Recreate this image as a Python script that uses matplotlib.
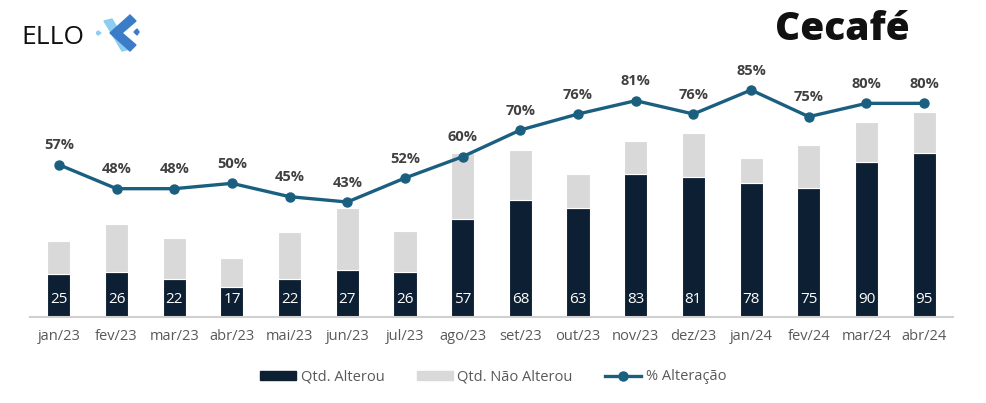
import matplotlib
matplotlib.use('Agg')
import matplotlib.pyplot as plt
from matplotlib.patches import Polygon, Patch
from matplotlib.lines import Line2D

plt.rcParams['font.family'] = ['Open Sans', 'DejaVu Sans']

meses = ['jan/23', 'fev/23', 'mar/23', 'abr/23', 'mai/23', 'jun/23', 'jul/23', 'ago/23',
         'set/23', 'out/23', 'nov/23', 'dez/23', 'jan/24', 'fev/24', 'mar/24', 'abr/24']
qtd_alterou = [25, 26, 22, 17, 22, 27, 26, 57, 68, 63, 83, 81, 78, 75, 90, 95]
qtd_nao_alterou = [19, 28, 24, 17, 27, 36, 24, 38, 29, 20, 19, 26, 14, 25, 23, 24]
pct_alteracao = [57, 48, 48, 50, 45, 43, 52, 60, 70, 76, 81, 76, 85, 75, 80, 80]

navy = '#0d1f33'
cinza = '#d9d9d9'
azul = '#1b5f80'

fig = plt.figure(figsize=(9.86, 4.03), dpi=100)
ax = fig.add_axes([30/986, 1 - 316.7/403, 923/986, 276.7/403])
x = list(range(len(meses)))

ax.bar(x, qtd_alterou, width=0.4, color=navy, edgecolor='white', linewidth=0.8, zorder=2)
ax.bar(x, qtd_nao_alterou, width=0.4, bottom=qtd_alterou, color=cinza,
       edgecolor='white', linewidth=0.8, zorder=2)
ax.set_xlim(-0.5, 15.5)
ax.set_ylim(0, 276.7/1.72)

for i, v in enumerate(qtd_alterou):
    ax.annotate(str(v), (i, 0), xytext=(0, 12.5), textcoords='offset points',
                ha='center', va='center', color='white', fontsize=11, zorder=4)

for s in ['top', 'right', 'left']:
    ax.spines[s].set_visible(False)
ax.spines['bottom'].set_color('#d0d0d0')
ax.spines['bottom'].set_linewidth(1.5)
ax.set_yticks([])
ax.set_xticks(x)
ax.set_xticklabels(meses, color='#595959', fontsize=10.5)
ax.tick_params(axis='x', length=0, pad=9)

ax2 = ax.twinx()
ax2.set_ylim(0, 276.7/2.667)
ax2.plot(x, pct_alteracao, color=azul, linewidth=2.4, marker='o', markersize=6.5, zorder=5)
for i, p in enumerate(pct_alteracao):
    ax2.annotate(f'{p}%', (i, p), xytext=(0, 9), textcoords='offset points',
                 ha='center', va='bottom', color='#404040', fontsize=10.5, fontweight='bold')
ax2.axis('off')

handles = [Patch(color=navy), Patch(color=cinza),
           Line2D([0], [0], color=azul, linewidth=2.4, marker='o', markersize=6.5)]
fig.legend(handles, ['Qtd. Alterou', 'Qtd. Não Alterou', '% Alteração'],
           loc='center', bbox_to_anchor=(0.5, 1 - 377/403), ncol=3, frameon=False,
           fontsize=10.5, labelcolor='#595959', handlelength=2.5, handleheight=0.55,
           columnspacing=2.2, handletextpad=0.3)

# logos aproximados
fig.text(21/986, 1 - 37/403, 'ELLO', fontsize=19, color='#111111', va='center', ha='left')
lg = fig.add_axes([96/986, 1 - 55/403, 45/986, 42/403])
lg.set_xlim(0, 45)
lg.set_ylim(0, 42)
lg.axis('off')
lg.add_patch(Polygon([[8, 34], [16, 36], [34, 6], [26, 4]], color='#8ecdf2'))
lg.add_patch(Polygon([[2, 24], [5, 22], [2, 20], [0, 22]], color='#8ecdf2'))
lg.add_patch(Polygon([[14, 22], [34, 40], [40, 34], [26, 22], [40, 10], [34, 4]], color='#3a7cc8'))
lg.add_patch(Polygon([[41, 26], [38, 23], [41, 20], [43, 23]], color='#3a7cc8'))
fig.text(775/986, 1 - 30/403, 'Cecafé', fontsize=28, fontweight='heavy', color='#111111',
         va='center', ha='left')

fig.savefig('out.png', dpi=100)
